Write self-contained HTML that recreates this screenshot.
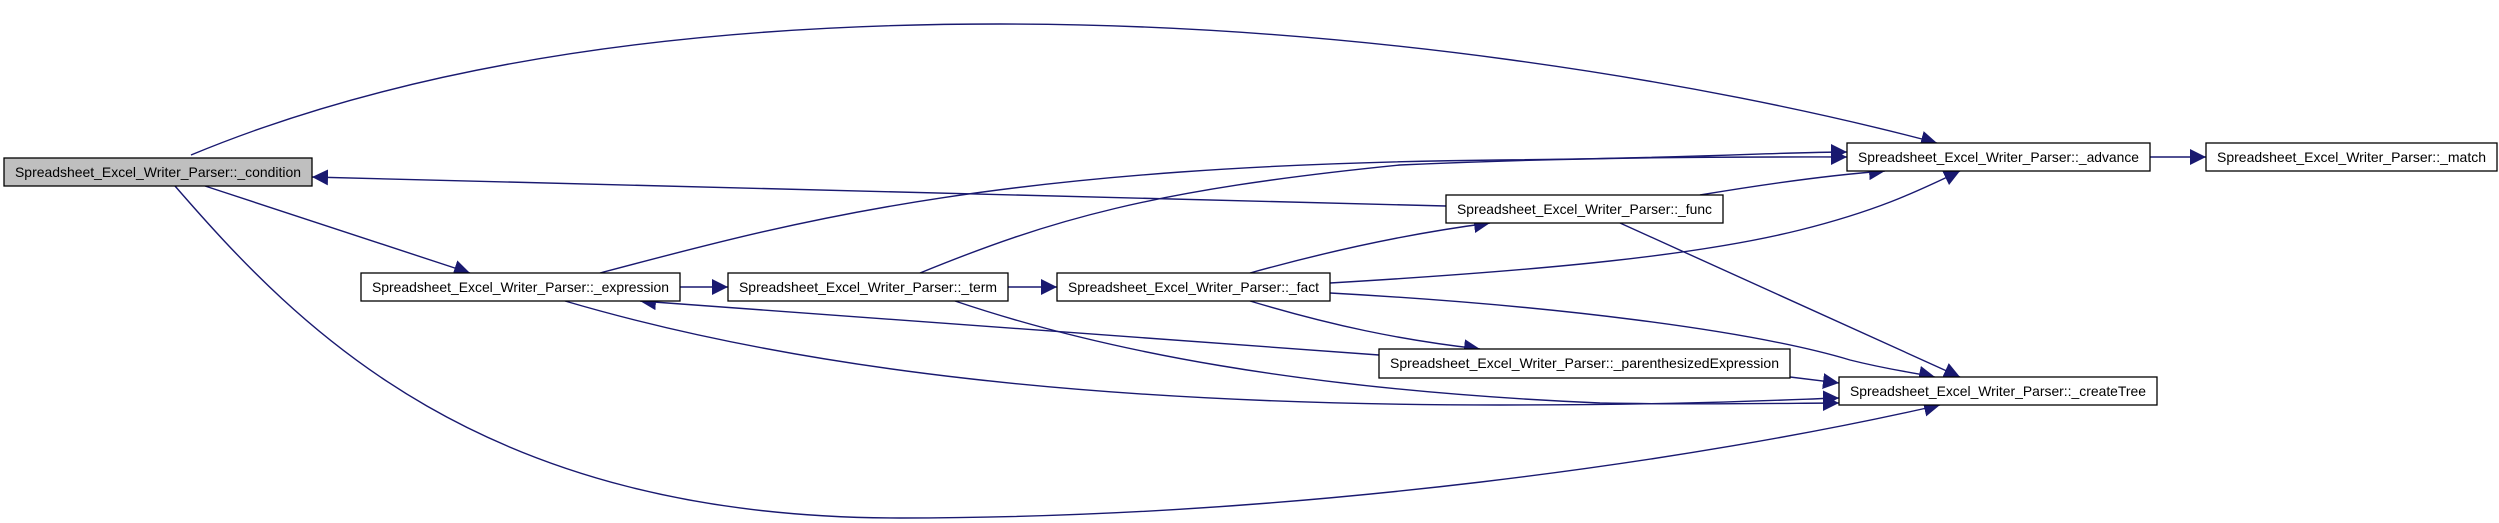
<!DOCTYPE html>
<html><head><meta charset="utf-8"><style>
html,body{margin:0;padding:0;background:#fff;}
svg{display:block;}
text{font-family:"Liberation Sans",sans-serif;font-size:14px;fill:#000;}
</style></head><body>
<svg width="2499" height="523" viewBox="0 0 2499 523" xmlns="http://www.w3.org/2000/svg">
<defs>
<marker id="a" viewBox="0 0 10 10" refX="10" refY="5" markerWidth="16" markerHeight="16" markerUnits="userSpaceOnUse" orient="auto">
<path d="M0,0 L10,5 L0,10 z" fill="#191970"/>
</marker>
</defs>
<g fill="none" stroke="#191970" stroke-width="1.4" marker-end="url(#a)">
<path d="M191,155 C420,60 700,24 1000,24 C1350,24 1700,80 1937,143"/>
<path d="M1446,206 L312,177"/>
<path d="M205,186 L470,273"/>
<path d="M175,186 C300,330 480,518 900,518 C1300,518 1700,460 1940,405"/>
<path d="M680,287 L728,287"/>
<path d="M600,273 C800,220 1000,165 1500,160 C1700,158 1780,152 1847,152"/>
<path d="M565,301 C800,370 1100,405 1500,405 C1700,405 1800,399 1839,398"/>
<path d="M1379,355 L640,301"/>
<path d="M920,273 C1050,220 1150,190 1400,165 C1600,156 1760,157 1847,157"/>
<path d="M1008,287 L1057,287"/>
<path d="M955,301 C1100,350 1300,390 1600,403 C1700,405 1800,403 1839,403"/>
<path d="M1250,273 C1340,248 1420,232 1490,223"/>
<path d="M1330,283 C1550,270 1700,255 1800,230 C1880,210 1920,190 1960,171"/>
<path d="M1330,293 C1550,305 1750,330 1850,360 C1890,370 1910,372 1935,377"/>
<path d="M1250,301 C1330,325 1400,340 1480,349"/>
<path d="M1700,195 C1760,185 1830,175 1885,171"/>
<path d="M1620,223 L1960,377"/>
<path d="M1790,377 L1839,383"/>
<path d="M2150,157 L2206,157"/>
</g>
<g stroke="#000" stroke-width="1.3">
<rect x="4" y="158" width="308" height="28" fill="#bfbfbf"/>
<rect x="361" y="273" width="319" height="28" fill="#fff"/>
<rect x="728" y="273" width="280" height="28" fill="#fff"/>
<rect x="1057" y="273" width="273" height="28" fill="#fff"/>
<rect x="1446" y="195" width="277" height="28" fill="#fff"/>
<rect x="1379" y="349" width="411" height="29" fill="#fff"/>
<rect x="1847" y="143" width="303" height="28" fill="#fff"/>
<rect x="2206" y="143" width="291" height="28" fill="#fff"/>
<rect x="1839" y="377" width="318" height="28" fill="#fff"/>
</g>
<text x="15" y="177" textLength="286" lengthAdjust="spacingAndGlyphs">Spreadsheet_Excel_Writer_Parser::_condition</text>
<text x="372" y="292" textLength="297" lengthAdjust="spacingAndGlyphs">Spreadsheet_Excel_Writer_Parser::_expression</text>
<text x="739" y="292" textLength="258" lengthAdjust="spacingAndGlyphs">Spreadsheet_Excel_Writer_Parser::_term</text>
<text x="1068" y="292" textLength="251" lengthAdjust="spacingAndGlyphs">Spreadsheet_Excel_Writer_Parser::_fact</text>
<text x="1457" y="214" textLength="255" lengthAdjust="spacingAndGlyphs">Spreadsheet_Excel_Writer_Parser::_func</text>
<text x="1390" y="368" textLength="389" lengthAdjust="spacingAndGlyphs">Spreadsheet_Excel_Writer_Parser::_parenthesizedExpression</text>
<text x="1858" y="162" textLength="281" lengthAdjust="spacingAndGlyphs">Spreadsheet_Excel_Writer_Parser::_advance</text>
<text x="2217" y="162" textLength="269" lengthAdjust="spacingAndGlyphs">Spreadsheet_Excel_Writer_Parser::_match</text>
<text x="1850" y="396" textLength="296" lengthAdjust="spacingAndGlyphs">Spreadsheet_Excel_Writer_Parser::_createTree</text>
</svg>
</body></html>
